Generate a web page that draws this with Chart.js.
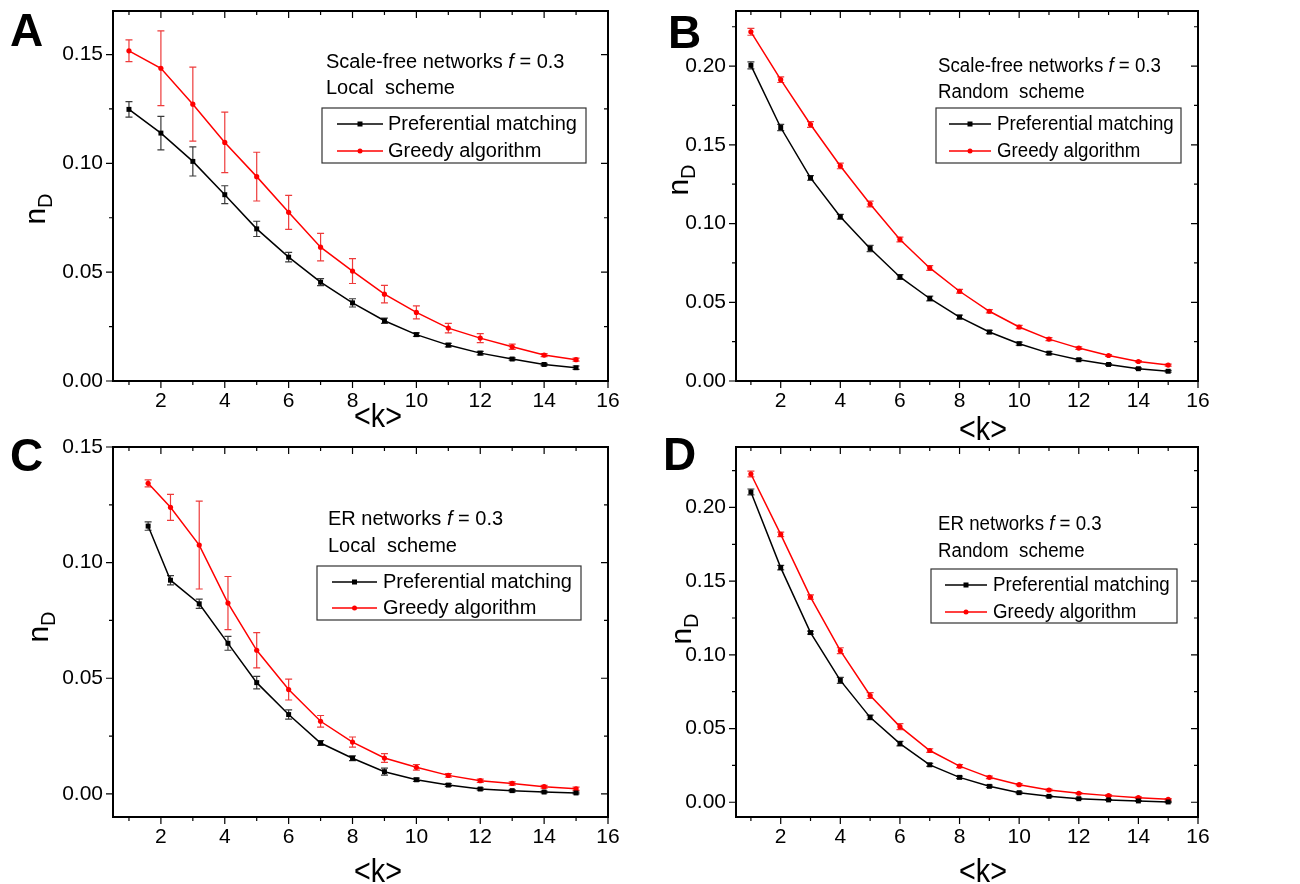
<!DOCTYPE html>
<html>
<head>
<meta charset="utf-8">
<script src="https://cdn.jsdelivr.net/npm/chart.js@4.4.0/dist/chart.umd.min.js"></script>
<style>
  html, body { margin: 0; padding: 0; background: #fff; }
  body { width: 1300px; height: 884px; position: relative; overflow: hidden; font-family: "Liberation Sans", Arial, sans-serif; color: #000; }
  canvas { position: absolute; }
  .letter { position: absolute; font-weight: bold; font-size: 46px; line-height: 1; }
  .ytitle { position: absolute; font-size: 30px; line-height: 1; white-space: nowrap; transform: translate(-50%, -50%) rotate(-90deg); }
  .ytitle sub { font-size: 20px; }
  .xtitle { position: absolute; font-size: 33px; line-height: 1; white-space: nowrap; transform: translate(-50%, -50%) scaleX(0.87); }
</style>
</head>
<body>
<canvas id="chartA"></canvas>
<canvas id="chartB"></canvas>
<canvas id="chartC"></canvas>
<canvas id="chartD"></canvas>

<div class="letter" style="left:10px;top:7px">A</div>
<div class="letter" style="left:668px;top:9px">B</div>
<div class="letter" style="left:10px;top:432px">C</div>
<div class="letter" style="left:663px;top:431px">D</div>

<div class="ytitle" style="left:37px;top:209px">n<sub>D</sub></div>
<div class="ytitle" style="left:680px;top:180px">n<sub>D</sub></div>
<div class="ytitle" style="left:40px;top:627px">n<sub>D</sub></div>
<div class="ytitle" style="left:683px;top:629px">n<sub>D</sub></div>

<div class="xtitle" style="left:378px;top:415px">&lt;k&gt;</div>
<div class="xtitle" style="left:983px;top:428px">&lt;k&gt;</div>
<div class="xtitle" style="left:378px;top:870px">&lt;k&gt;</div>
<div class="xtitle" style="left:983px;top:870px">&lt;k&gt;</div>

<script>
// x values (mean degree <k>)
const kValues = [1, 2, 3, 4, 5, 6, 7, 8, 9, 10, 11, 12, 13, 14, 15];
const kValuesC = [1.6, 2.3, 3.2, 4.1, 5, 6, 7, 8, 9, 10, 11, 12, 13, 14, 15];

// A: scale-free, local scheme
const aPref = [0.1248, 0.1139, 0.1009, 0.0856, 0.0699, 0.0569, 0.0454, 0.0359, 0.0277, 0.0213, 0.0165, 0.0128, 0.0101, 0.0076, 0.0061];
const aPrefErr = [0.0036, 0.0077, 0.0067, 0.0041, 0.0035, 0.0022, 0.0016, 0.0019, 0.0012, 0.0008, 0.0008, 0.0008, 0.0005, 0.0005, 0.0008];
const aGreedy = [0.1517, 0.1437, 0.1272, 0.1096, 0.0939, 0.0775, 0.0615, 0.0505, 0.0399, 0.0315, 0.0243, 0.0197, 0.0157, 0.0119, 0.0098];
const aGreedyErr = [0.005, 0.0172, 0.017, 0.0139, 0.0112, 0.0078, 0.0063, 0.0057, 0.004, 0.003, 0.0022, 0.0021, 0.0012, 0.0007, 0.0007];

// B: scale-free, random scheme
const bPref = [0.2005, 0.161, 0.129, 0.1043, 0.0842, 0.0661, 0.0524, 0.0406, 0.0311, 0.0237, 0.0177, 0.0135, 0.0105, 0.0078, 0.0062];
const bPrefErr = [0.0022, 0.002, 0.0015, 0.0015, 0.002, 0.0015, 0.0015, 0.0012, 0.001, 0.001, 0.001, 0.0008, 0.0006, 0.0005, 0.0005];
const bGreedy = [0.2218, 0.1914, 0.1629, 0.1366, 0.1124, 0.0899, 0.0718, 0.057, 0.0443, 0.0343, 0.0266, 0.0209, 0.0162, 0.0124, 0.0101];
const bGreedyErr = [0.0022, 0.0018, 0.0018, 0.0018, 0.0018, 0.0015, 0.0015, 0.0012, 0.001, 0.001, 0.001, 0.0008, 0.0006, 0.0005, 0.0006];

// C: ER, local scheme
const cPref = [0.1158, 0.0924, 0.0822, 0.0651, 0.0481, 0.0343, 0.022, 0.0154, 0.0096, 0.0061, 0.0038, 0.0021, 0.0014, 0.0008, 0.0004];
const cPrefErr = [0.0018, 0.002, 0.002, 0.003, 0.0027, 0.002, 0.001, 0.001, 0.0015, 0.0007, 0.0006, 0.0005, 0.0005, 0.0004, 0.0004];
const cGreedy = [0.1343, 0.1239, 0.1076, 0.0825, 0.0621, 0.0451, 0.0314, 0.0224, 0.0155, 0.0115, 0.008, 0.0057, 0.0045, 0.0031, 0.0022];
const cGreedyErr = [0.0015, 0.0056, 0.019, 0.0115, 0.0076, 0.0045, 0.0025, 0.0022, 0.0019, 0.0012, 0.0008, 0.0007, 0.0007, 0.0006, 0.0007];

// D: ER, random scheme
const dPref = [0.2105, 0.1592, 0.1151, 0.0827, 0.0576, 0.0398, 0.0254, 0.0169, 0.0108, 0.0065, 0.004, 0.0024, 0.0016, 0.0009, 0.0002];
const dPrefErr = [0.002, 0.0015, 0.001, 0.002, 0.0015, 0.0015, 0.001, 0.0008, 0.0008, 0.0006, 0.0005, 0.0005, 0.0004, 0.0004, 0.0004];
const dGreedy = [0.2227, 0.1817, 0.1392, 0.1028, 0.0724, 0.0513, 0.0351, 0.0245, 0.0169, 0.0119, 0.0083, 0.0061, 0.0045, 0.0031, 0.002];
const dGreedyErr = [0.002, 0.0015, 0.0015, 0.002, 0.002, 0.002, 0.0012, 0.001, 0.0008, 0.0007, 0.0006, 0.0005, 0.0005, 0.0005, 0.0005];

const seriesNames = ['Preferential matching', 'Greedy algorithm'];

const FONT = '"Liberation Sans", Arial, sans-serif';
Chart.defaults.font.family = FONT;
Chart.defaults.color = '#000';

function points(xs, ys) {
    return xs.map((x, i) => ({ x: x, y: ys[i] }));
}

// frame round the plot with ticks on all four sides
const frameTicks = {
    id: 'frameTicks',
    afterDraw(chart) {
        const { ctx, chartArea: a, scales } = chart;
        ctx.save();
        ctx.strokeStyle = '#000';
        ctx.lineWidth = 1.2;
        ctx.beginPath();
        scales.x.ticks.forEach(t => {
            const px = scales.x.getPixelForValue(t.value);
            const len = t.label ? 7 : 4;
            ctx.moveTo(px, a.bottom); ctx.lineTo(px, a.bottom + len);
            ctx.moveTo(px, a.top); ctx.lineTo(px, a.top + len);
        });
        scales.y.ticks.forEach(t => {
            const py = scales.y.getPixelForValue(t.value);
            const len = t.label ? 7 : 4;
            ctx.moveTo(a.left, py); ctx.lineTo(a.left - len, py);
            ctx.moveTo(a.right, py); ctx.lineTo(a.right - len, py);
        });
        ctx.stroke();
        ctx.lineWidth = 2;
        ctx.strokeRect(a.left, a.top, a.right - a.left, a.bottom - a.top);
        ctx.restore();
    }
};

// vertical error bars read from dataset.errors
const errorBars = {
    id: 'errorBars',
    beforeDatasetsDraw(chart) {
        const { ctx, scales: { x, y } } = chart;
        chart.data.datasets.forEach(ds => {
            if (!ds.errors) return;
            ctx.save();
            ctx.strokeStyle = ds.errorColor;
            ctx.lineWidth = 1.2;
            ctx.beginPath();
            ds.data.forEach((p, j) => {
                const e = ds.errors[j];
                const px = x.getPixelForValue(p.x);
                const y1 = y.getPixelForValue(p.y + e);
                const y2 = y.getPixelForValue(p.y - e);
                ctx.moveTo(px, y1); ctx.lineTo(px, y2);
                ctx.moveTo(px - 3.5, y1); ctx.lineTo(px + 3.5, y1);
                ctx.moveTo(px - 3.5, y2); ctx.lineTo(px + 3.5, y2);
            });
            ctx.stroke();
            ctx.restore();
        });
    }
};

// note text and framed legend inside the plot, page coordinates
const panelNotes = {};
function stretchedText(ctx, text, x, y, sx) {
    ctx.save();
    ctx.translate(x, y);
    ctx.scale(sx, 1);
    ctx.fillText(text, 0, 0);
    ctx.restore();
    return ctx.measureText(text).width * sx;
}
const noteLegend = {
    id: 'noteLegend',
    afterDraw(chart) {
        const cfg = panelNotes[chart.canvas.id];
        if (!cfg) return;
        const { ctx } = chart;
        const ox = cfg.origin[0], oy = cfg.origin[1];
        const sx = cfg.stretch;
        ctx.save();
        ctx.fillStyle = '#000';
        ctx.textBaseline = 'middle';
        ctx.textAlign = 'left';
        cfg.notes.forEach(n => {
            let x = n.x - ox;
            n.runs.forEach(r => {
                ctx.font = (r.italic ? 'italic ' : '') + '20px ' + FONT;
                x += stretchedText(ctx, r.text, x, n.y - oy, sx);
            });
        });
        const b = cfg.box;
        ctx.strokeStyle = '#333';
        ctx.lineWidth = 1.2;
        ctx.strokeRect(b[0] - ox, b[1] - oy, b[2] - b[0], b[3] - b[1]);
        ctx.font = '20px ' + FONT;
        chart.data.datasets.forEach((ds, i) => {
            const ry = cfg.rows[i] - oy;
            const x1 = cfg.sample[0] - ox, x2 = cfg.sample[1] - ox;
            ctx.strokeStyle = ds.borderColor;
            ctx.lineWidth = 1.5;
            ctx.beginPath(); ctx.moveTo(x1, ry); ctx.lineTo(x2, ry); ctx.stroke();
            ctx.fillStyle = ds.borderColor;
            const mx = (x1 + x2) / 2;
            if (ds.pointStyle === 'rect') {
                ctx.fillRect(mx - 2.5, ry - 2.5, 5, 5);
            } else {
                ctx.beginPath(); ctx.arc(mx, ry, 2.5, 0, Math.PI * 2); ctx.fill();
            }
            ctx.fillStyle = '#000';
            stretchedText(ctx, ds.label, cfg.textX - ox, ry, sx);
        });
        ctx.restore();
    }
};

function makePanel(id, plot, yMin, yMax, xs, pref, prefErr, greedy, greedyErr, notes) {
    const [L, T, R, B] = plot;
    const canvas = document.getElementById(id);
    const left = L - 110, top = T - 40;
    canvas.width = (R - L) + 160;
    canvas.height = (B - T) + 110;
    canvas.style.left = left + 'px';
    canvas.style.top = top + 'px';
    notes.origin = [left, top];
    panelNotes[id] = notes;

    new Chart(canvas.getContext('2d'), {
        type: 'line',
        data: {
            datasets: [
                {
                    label: seriesNames[0],
                    data: points(xs, pref),
                    errors: prefErr,
                    errorColor: '#3a3a3a',
                    borderColor: '#000000',
                    backgroundColor: '#000000',
                    borderWidth: 1.5,
                    pointStyle: 'rect',
                    pointRadius: 3.5,
                    pointBorderWidth: 0,
                    tension: 0
                },
                {
                    label: seriesNames[1],
                    data: points(xs, greedy),
                    errors: greedyErr,
                    errorColor: '#ee3b3b',
                    borderColor: '#ff0000',
                    backgroundColor: '#ff0000',
                    borderWidth: 1.5,
                    pointStyle: 'circle',
                    pointRadius: 2.6,
                    pointBorderWidth: 0,
                    tension: 0
                }
            ]
        },
        options: {
            responsive: false,
            animation: false,
            devicePixelRatio: 1,
            layout: { padding: { left: 0, top: 40, right: 50, bottom: 0 } },
            plugins: {
                legend: { display: false },
                tooltip: { enabled: false }
            },
            scales: {
                x: {
                    type: 'linear',
                    min: 0.5,
                    max: 16,
                    grid: { display: false, drawTicks: false },
                    border: { display: false },
                    ticks: {
                        stepSize: 1,
                        includeBounds: false,
                        autoSkip: false,
                        maxRotation: 0,
                        padding: 8,
                        font: { size: 21 },
                        callback: v => (v % 2 === 0 ? String(v) : '')
                    },
                    afterFit(scale) { scale.height = 70; }
                },
                y: {
                    type: 'linear',
                    min: yMin,
                    max: yMax,
                    grid: { display: false, drawTicks: false },
                    border: { display: false },
                    ticks: {
                        stepSize: 0.025,
                        includeBounds: false,
                        autoSkip: false,
                        padding: 10,
                        font: { size: 21 },
                        callback: v => (Math.abs(v * 20 - Math.round(v * 20)) < 1e-6 ? v.toFixed(2) : '')
                    },
                    afterFit(scale) { scale.width = 110; }
                }
            }
        },
        plugins: [errorBars, frameTicks, noteLegend]
    });
}

function noteRuns(kind) {
    return [{ text: kind + ' networks ' }, { text: 'f', italic: true }, { text: ' = 0.3' }];
}

makePanel('chartA', [113, 11, 608, 381], 0, 0.17, kValues, aPref, aPrefErr, aGreedy, aGreedyErr, {
    stretch: 1,
    notes: [{ x: 326, y: 62, runs: noteRuns('Scale-free') }, { x: 326, y: 88, runs: [{ text: 'Local  scheme' }] }],
    box: [322, 108, 586, 163], rows: [124, 151], sample: [337, 383], textX: 388
});
makePanel('chartB', [736, 11, 1198, 381], 0, 0.235, kValues, bPref, bPrefErr, bGreedy, bGreedyErr, {
    stretch: 0.935,
    notes: [{ x: 938, y: 66, runs: noteRuns('Scale-free') }, { x: 938, y: 92, runs: [{ text: 'Random  scheme' }] }],
    box: [936, 108, 1181, 163], rows: [124, 151], sample: [949, 991], textX: 997
});
makePanel('chartC', [113, 447, 608, 817], -0.01, 0.15, kValuesC, cPref, cPrefErr, cGreedy, cGreedyErr, {
    stretch: 1,
    notes: [{ x: 328, y: 519, runs: noteRuns('ER') }, { x: 328, y: 546, runs: [{ text: 'Local  scheme' }] }],
    box: [317, 566, 581, 620], rows: [582, 608], sample: [332, 377], textX: 383
});
makePanel('chartD', [736, 447, 1198, 817], -0.01, 0.241, kValues, dPref, dPrefErr, dGreedy, dGreedyErr, {
    stretch: 0.935,
    notes: [{ x: 938, y: 524, runs: noteRuns('ER') }, { x: 938, y: 551, runs: [{ text: 'Random  scheme' }] }],
    box: [931, 569, 1177, 623], rows: [585, 612], sample: [945, 987], textX: 993
});
</script>
</body>
</html>
